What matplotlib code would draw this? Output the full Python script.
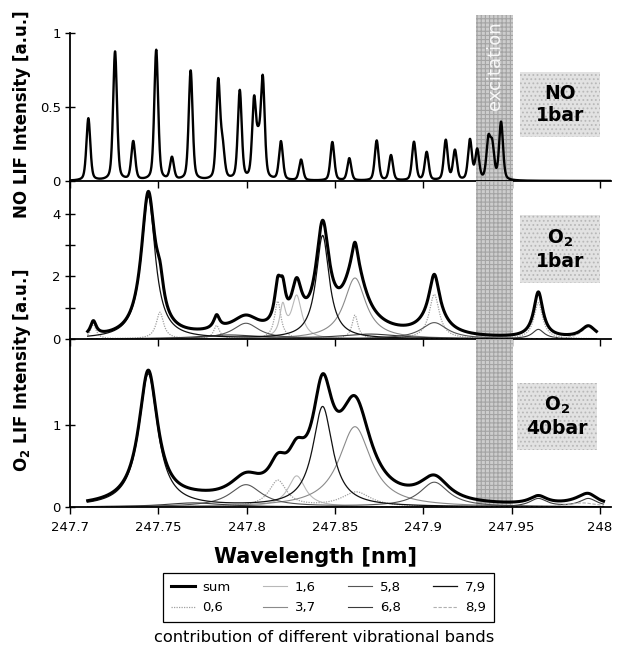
import numpy as np
import matplotlib.pyplot as plt
from matplotlib.patches import Rectangle
from matplotlib.lines import Line2D

################################################
# Data

# NO 1bar: line positions [nm] and peak heights [a.u.]
no_pos = [247.7104, 247.7255, 247.7358, 247.7488, 247.7577, 247.7683,
          247.7839, 247.7864, 247.7961, 247.8042, 247.8066, 247.8091,
          247.8194, 247.8308, 247.8485, 247.8581, 247.8736, 247.8817,
          247.8947, 247.9019, 247.9127, 247.9179, 247.9264, 247.9305,
          247.9368, 247.9390, 247.9440]
no_height = [0.42, 0.87, 0.26, 0.88, 0.15, 0.74,
             0.66, 0.20, 0.60, 0.52, 0.20, 0.67,
             0.26, 0.14, 0.26, 0.15, 0.27, 0.17,
             0.26, 0.19, 0.27, 0.20, 0.27, 0.20,
             0.26, 0.22, 0.39]
no_hwhm = 0.0013

# O2 lines: (band, position [nm], height [a.u.], half width [nm])
o2_1bar = [
    ("7,9", 247.7443, 4.55, 0.0048),
    ("7,9", 247.8430, 3.30, 0.0045),
    ("5,8", 247.7996, 0.50, 0.0090),
    ("5,8", 247.9062, 0.52, 0.0090),
    ("3,7", 247.8613, 1.95, 0.0075),
    ("0,6", 247.7132, 0.45, 0.0020),
    ("0,6", 247.7509, 0.85, 0.0025),
    ("0,6", 247.7830, 0.42, 0.0020),
    ("0,6", 247.8176, 1.20, 0.0022),
    ("0,6", 247.8613, 0.75, 0.0020),
    ("0,6", 247.9062, 1.42, 0.0035),
    ("0,6", 247.9651, 1.15, 0.0030),
    ("1,6", 247.8204, 0.95, 0.0020),
    ("1,6", 247.8283, 1.35, 0.0035),
    ("6,8", 247.7900, 0.12, 0.0200),
    ("6,8", 247.8700, 0.15, 0.0200),
    ("6,8", 247.9651, 0.30, 0.0040),
    ("8,9", 247.9934, 0.38, 0.0050),
]

o2_40bar = [
    ("7,9", 247.7443, 1.62, 0.0065),
    ("7,9", 247.8430, 1.22, 0.0068),
    ("5,8", 247.7996, 0.27, 0.0110),
    ("5,8", 247.9062, 0.30, 0.0100),
    ("3,7", 247.8613, 0.98, 0.0110),
    ("0,6", 247.8176, 0.32, 0.0060),
    ("0,6", 247.8620, 0.18, 0.0100),
    ("1,6", 247.8283, 0.38, 0.0060),
    ("6,8", 247.7700, 0.05, 0.0200),
    ("6,8", 247.9651, 0.10, 0.0060),
    ("6,8", 247.9934, 0.10, 0.0060),
    ("8,9", 247.9900, 0.05, 0.0100),
]

bands = ["0,6", "1,6", "3,7", "5,8", "6,8", "7,9", "8,9"]
legend_order = ["sum", "0,6", "1,6", "3,7", "5,8", "6,8", "7,9", "8,9"]

excitation = (247.930, 247.951)

################################################
# Line shapes

def pvoigt(x, x0, h, w, eta=0.4):
    d = (x - x0) / w
    return h * (eta / (1 + d**2) + (1 - eta) * np.exp(-np.log(2) * d**2))

def lorentz(x, x0, h, w):
    return h / (1 + ((x - x0) / w)**2)

styles = {
    "sum": dict(color="black", lw=2.2, ls="-"),
    "0,6": dict(color="#a0a0a0", lw=0.9, ls=(0, (1, 1))),
    "1,6": dict(color="#b8b8b8", lw=0.8, ls="-"),
    "3,7": dict(color="#8a8a8a", lw=0.8, ls="-"),
    "5,8": dict(color="#555555", lw=0.8, ls="-"),
    "6,8": dict(color="#3a3a3a", lw=0.8, ls="-"),
    "7,9": dict(color="#111111", lw=0.9, ls="-"),
    "8,9": dict(color="#b0b0b0", lw=0.8, ls=(0, (3, 1.5))),
}

################################################
# Figure

plt.rcParams["font.family"] = "DejaVu Sans"
plt.rcParams["mathtext.fontset"] = "dejavusans"
plt.rcParams["hatch.color"] = "#a4a4a4"
plt.rcParams["hatch.linewidth"] = 0.8

W, H = 619, 647
fig = plt.figure(figsize=(W / 100, H / 100), dpi=100)

def fx(px):
    return px / W

def fy(py):
    return 1 - py / H

xmin, xmax = 247.7, 248.006
x_left = 70
x_scale = 530 / 0.3
ax_w = fx((xmax - xmin) * x_scale)

ax1 = fig.add_axes([fx(x_left), fy(181), ax_w, (181 - 15) / H])
ax2 = fig.add_axes([fx(x_left), fy(339), ax_w, (339 - 181) / H])
ax3 = fig.add_axes([fx(x_left), fy(507), ax_w, (507 - 339) / H])

for ax in (ax1, ax2, ax3):
    ax.set_xlim(xmin, xmax)
    ax.set_xticks([247.7, 247.75, 247.8, 247.85, 247.9, 247.95, 248.0])
    ax.spines["top"].set_visible(False)
    ax.spines["right"].set_visible(False)
    ax.spines["left"].set_linewidth(1.3)
    ax.spines["bottom"].set_linewidth(1.3)
    ax.tick_params(axis="y", direction="inout", length=7, width=1, labelsize=9.5, pad=3)
    ax.tick_params(axis="x", direction="out", length=5, width=1, labelsize=9.5, pad=5)
    ax.patch.set_alpha(0)
    ax.axvspan(excitation[0], excitation[1], facecolor="#cdcdcd",
               edgecolor="#a4a4a4", hatch="++++", lw=0, zorder=0.5)

# NO panel
x_no = np.linspace(xmin, xmax, 4000)
y_no = np.zeros_like(x_no)
for p, h in zip(no_pos, no_height):
    y_no += pvoigt(x_no, p, h, no_hwhm)
ax1.plot(x_no, y_no, color="black", lw=1.7, zorder=3)
ax1.set_ylim(0, 1.12)
ax1.set_yticks([0, 0.5, 1])
ax1.set_yticklabels(["0", "0.5", "1"])
ax1.spines["left"].set_bounds(0, 1)
ax1.tick_params(axis="x", labelbottom=False)
ax1.text(0.5 * (excitation[0] + excitation[1]), 0.78, "excitation",
         rotation=90, ha="center", va="center", fontsize=13,
         color="white", alpha=0.9, zorder=4)

# O2 panels
def draw_o2(ax, lines, x0, x1):
    x = np.linspace(x0, x1, 3000)
    total = np.zeros_like(x)
    for b in bands:
        comp = np.zeros_like(x)
        for band, p, h, w in lines:
            if band == b:
                comp += lorentz(x, p, h, w)
        if comp.any():
            ax.plot(x, comp, zorder=2, **styles[b])
        total += comp
    ax.plot(x, total, zorder=3, **styles["sum"])

draw_o2(ax2, o2_1bar, 247.710, 247.998)
ax2.set_ylim(0, 5.05)
ax2.set_yticks([0, 1, 2, 3, 4])
ax2.set_yticklabels(["0", "", "2", "", "4"])
ax2.tick_params(axis="x", labelbottom=False)

draw_o2(ax3, o2_40bar, 247.710, 248.002)
ax3.set_ylim(0, 2.05)
ax3.set_yticks([0, 1])
ax3.set_yticklabels(["0", "1"])
ax3.set_xticklabels(["247.7", "247.75", "247.8", "247.85", "247.9", "247.95", "248"])

# gas labels in stippled boxes
boxes = [
    ((520, 72, 80, 65), "NO\n1bar"),
    ((520, 215, 80, 68), r"$\mathbf{O_2}$" + "\n1bar"),
    ((517, 383, 80, 67), r"$\mathbf{O_2}$" + "\n40bar"),
]
for (bx, by, bw, bh), label in boxes:
    fig.patches.append(Rectangle((fx(bx), fy(by + bh)), bw / W, bh / H,
                                 transform=fig.transFigure, facecolor="#e2e2e2",
                                 edgecolor="#b8b8b8", hatch="....", lw=0, zorder=1))
    fig.text(fx(bx + bw / 2), fy(by + bh / 2), label, ha="center", va="center",
             fontsize=13.5, fontweight="bold", linespacing=1.2, zorder=5)

# axis labels
fig.text(fx(22), fy(114), "NO LIF Intensity [a.u.]", rotation=90,
         ha="center", va="center", fontsize=12, fontweight="bold")
fig.text(fx(22), fy(370), r"$\mathbf{O_2}$ LIF Intensity [a.u.]", rotation=90,
         ha="center", va="center", fontsize=12, fontweight="bold")
fig.text(fx(315), fy(557), "Wavelength [nm]", ha="center", va="center",
         fontsize=15, fontweight="bold")

# legend
handles = [Line2D([], [], **styles[k]) for k in legend_order]
leg = fig.legend(handles, legend_order, ncol=4, loc="upper left",
                 bbox_to_anchor=(fx(163), fy(573)), frameon=True, fancybox=False,
                 edgecolor="black", framealpha=1, borderaxespad=0, fontsize=9.5,
                 handlelength=1.8, handletextpad=0.6, columnspacing=2.45,
                 labelspacing=0.55, borderpad=0.6)
leg.get_frame().set_linewidth(0.9)

fig.text(fx(324), fy(637), "contribution of different vibrational bands",
         ha="center", va="center", fontsize=11.7)

plt.savefig("out.png", dpi=100)
